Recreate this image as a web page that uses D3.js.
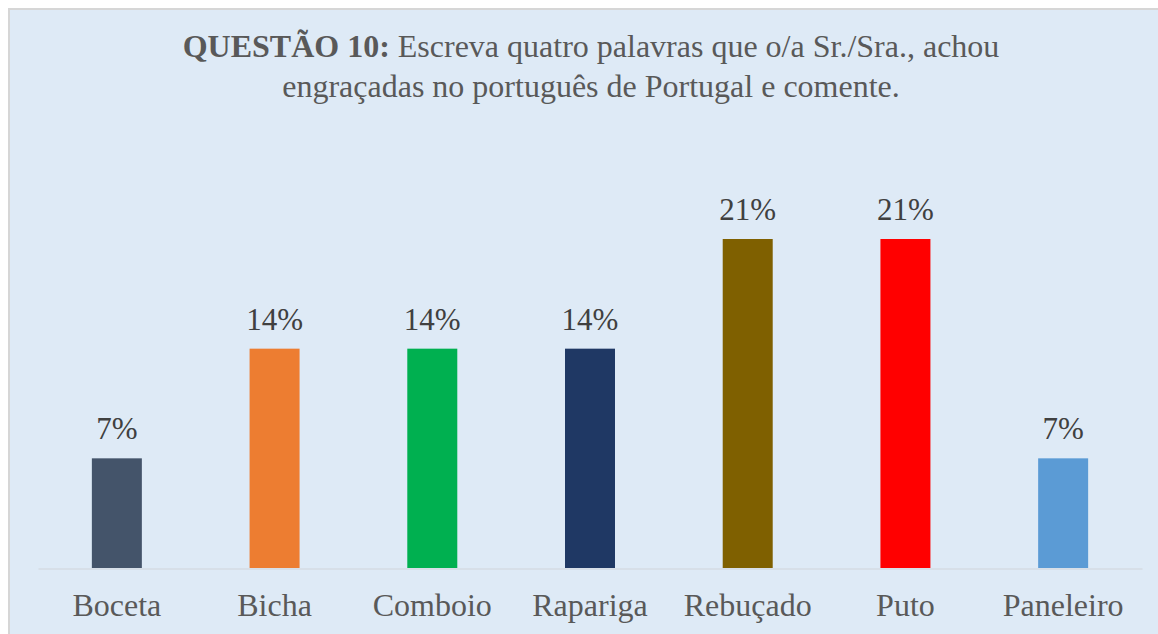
<!DOCTYPE html>
<html>
<head>
<meta charset="utf-8">
<script src="https://cdn.jsdelivr.net/npm/d3@7"></script>
<style>
html,body{margin:0;padding:0;background:#ffffff;}
svg{display:block;}
</style>
</head>
<body>
<svg id="chart" width="1158" height="634"></svg>
<script>
const categories = ["Boceta","Bicha","Comboio","Rapariga","Rebuçado","Puto","Paneleiro"];
const values = [7,14,14,14,21,21,7];
const valueLabels = ["7%","14%","14%","14%","21%","21%","7%"];
const colors = ["#44546a","#ed7d31","#00b050","#1f3864","#7f6000","#ff0000","#5b9bd5"];
const titleBold = "QUESTÃO 10:";
const titleRest = " Escreva quatro palavras que o/a Sr./Sra., achou";
const titleLine2 = "engraçadas no português de Portugal e comente.";

const svg = d3.select("#chart");

// chart area background + border
svg.append("rect").attr("x",9).attr("y",9).attr("width",1180).attr("height",640)
  .attr("fill","#deeaf6").attr("stroke","#d6d6d6").attr("stroke-width",2);

const plot = {left:38, right:1142, top:239, bottom:568};
const x = d3.scaleBand().domain(categories).range([plot.left, plot.right]).paddingInner(0.683).paddingOuter(0.3415);
const y = d3.scaleLinear().domain([0,21]).range([plot.bottom, plot.top]);

const font = "'Liberation Serif','Times New Roman',serif";

// title
const cx = 591;
const t1 = svg.append("text").attr("x",cx).attr("y",57).attr("text-anchor","middle")
  .attr("font-family",font).attr("font-size",32).attr("fill","#595959");
t1.append("tspan").attr("font-weight","bold").text(titleBold);
t1.append("tspan").text(titleRest);
svg.append("text").attr("x",cx).attr("y",97).attr("text-anchor","middle")
  .attr("font-family",font).attr("font-size",32).attr("fill","#595959").text(titleLine2);

const data = categories.map((c,i)=>({c, v:values[i], l:valueLabels[i], col:colors[i]}));

// bars
svg.append("g").selectAll("rect").data(data).join("rect")
  .attr("x",d=>x(d.c)).attr("width",x.bandwidth())
  .attr("y",d=>y(d.v)).attr("height",d=>y(0)-y(d.v))
  .attr("fill",d=>d.col);

// axis
const axis = svg.append("g").attr("transform",`translate(0,${plot.bottom+0.5})`)
  .call(d3.axisBottom(x).tickSize(0).tickPadding(0));
axis.select(".domain").attr("stroke","#d0d4da").attr("stroke-width",1.2);
axis.selectAll(".tick text").attr("font-family",font).attr("font-size",32)
  .attr("fill","#595959").attr("dy",null).attr("y",47).attr("dominant-baseline","auto");

// data labels
svg.append("g").selectAll("text").data(data).join("text")
  .attr("x",d=>x(d.c)+x.bandwidth()/2).attr("y",d=>y(d.v)-19)
  .attr("text-anchor","middle").attr("font-family",font).attr("font-size",31)
  .attr("fill","#404040").text(d=>d.l);
</script>
</body>
</html>
